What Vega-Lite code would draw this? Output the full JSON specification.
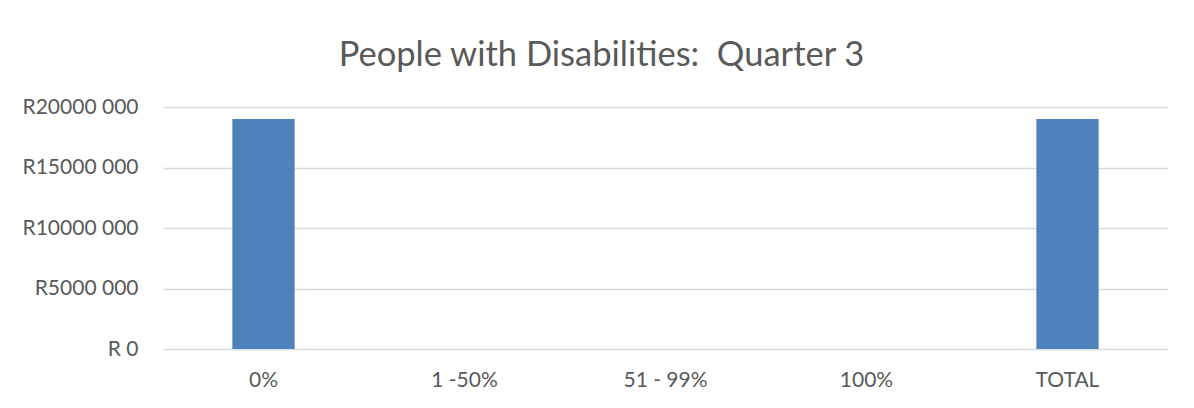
{
  "$schema": "https://vega.github.io/schema/vega-lite/v6.json",
  "autosize": "none",
  "width": 1005,
  "height": 242,
  "padding": {"left": 163, "top": 107, "right": 26, "bottom": 59},
  "background": "white",
  "title": {
    "text": "People with Disabilities:\u00a0 Quarter 3",
    "font": "Lato",
    "fontSize": 34.5,
    "fontWeight": "normal",
    "color": "#595959",
    "anchor": "middle",
    "dx": -64,
    "baseline": "alphabetic",
    "offset": -4
  },
  "data": {
    "values": [
      {"category": "0%", "amount": 19000000},
      {"category": "1 -50%", "amount": 0},
      {"category": "51 - 99%", "amount": 0},
      {"category": "100%", "amount": 0},
      {"category": "TOTAL", "amount": 19000000}
    ]
  },
  "mark": {"type": "bar", "color": "#4f81bd"},
  "encoding": {
    "x": {
      "field": "category",
      "type": "nominal",
      "sort": null,
      "scale": {"paddingInner": 0.69, "paddingOuter": 0.345},
      "axis": {
        "title": null,
        "labelAngle": 0,
        "labelFont": "Lato",
        "labelFontSize": 21,
        "labelColor": "#595959",
        "labelBaseline": "middle",
        "labelPadding": 31,
        "ticks": false,
        "tickSize": 0,
        "domain": false,
        "grid": false
      }
    },
    "y": {
      "field": "amount",
      "type": "quantitative",
      "scale": {"domain": [0, 20000000], "nice": false},
      "axis": {
        "title": null,
        "values": [0, 5000000, 10000000, 15000000, 20000000],
        "labelExpr": "datum.value == 0 ? 'R 0' : 'R' + floor(datum.value / 1000) + ' 000'",
        "labelFont": "Lato",
        "labelFontSize": 21,
        "labelColor": "#595959",
        "labelPadding": 25,
        "ticks": false,
        "tickSize": 0,
        "domain": false,
        "grid": true,
        "gridColor": "#d9d9d9",
        "gridWidth": 1.3
      }
    }
  },
  "config": {
    "view": {"stroke": null}
  }
}
